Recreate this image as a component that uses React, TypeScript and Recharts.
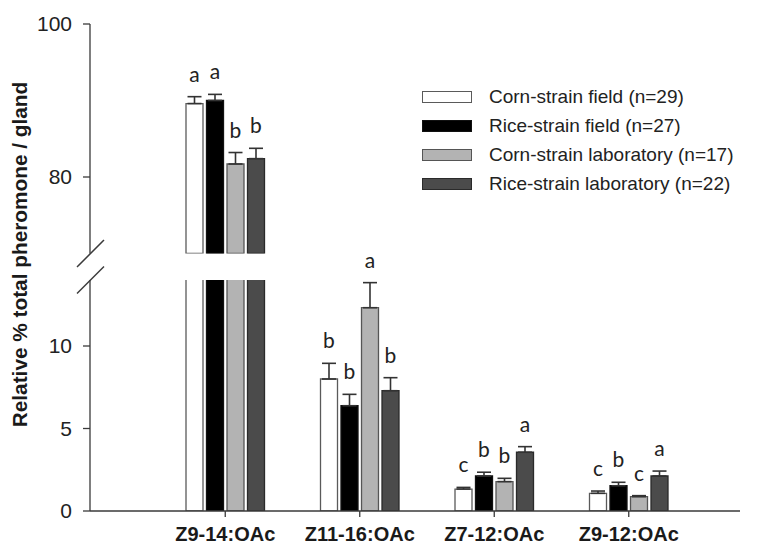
import React from 'react';
import { BarChart, Bar, XAxis, YAxis, ErrorBar, LabelList, Legend } from 'recharts';

// ---------- data ----------
const categories = ['Z9-14:OAc', 'Z11-16:OAc', 'Z7-12:OAc', 'Z9-12:OAc'];

const seriesNames = [
  'Corn-strain field (n=29)',
  'Rice-strain field (n=27)',
  'Corn-strain laboratory (n=17)',
  'Rice-strain laboratory (n=22)',
];

const cornField = [89.6, 8.0, 1.33, 1.07];
const cornFieldErr = [0.9, 0.95, 0.1, 0.14];
const cornFieldLetters = ['a', 'b', 'c', 'c'];

const riceField = [90.0, 6.38, 2.12, 1.53];
const riceFieldErr = [0.8, 0.69, 0.23, 0.21];
const riceFieldLetters = ['a', 'b', 'b', 'b'];

const cornLab = [81.7, 12.32, 1.78, 0.87];
const cornLabErr = [1.5, 1.52, 0.2, 0.06];
const cornLabLetters = ['b', 'a', 'b', 'c'];

const riceLab = [82.4, 7.29, 3.56, 2.12];
const riceLabErr = [1.35, 0.79, 0.34, 0.3];
const riceLabLetters = ['b', 'b', 'a', 'a'];

const upperDomain = [70, 100];
const upperTicks = [80, 100];
const lowerDomain = [0, 14];
const lowerTicks = [0, 5, 10];

const yLabel = 'Relative % total pheromone / gland';

// ---------- styles ----------
const fills = ['#ffffff', '#000000', '#b3b3b3', '#4b4b4b'];
const strokes = ['#5a5a5a', '#111111', '#555555', '#2a2a2a'];

const series = [
  { values: cornField, errs: cornFieldErr, letters: cornFieldLetters },
  { values: riceField, errs: riceFieldErr, letters: riceFieldLetters },
  { values: cornLab, errs: cornLabErr, letters: cornLabLetters },
  { values: riceLab, errs: riceLabErr, letters: riceLabLetters },
];

const W = 759;
const H = 546;
const AXIS_X = 90;
const PLOT_RIGHT = 740;
const UPPER_TOP = 24;
const UPPER_BOTTOM = 253.5;
const LOWER_TOP = 280;
const LOWER_BOTTOM = 511;
const XAXIS_H = 35;
const FONT = '"Liberation Sans", Arial, sans-serif';
const AXIS_COLOR = '#3a3a3a';

const inDomain = (v: number | null, dom: number[]) => v != null && v >= dom[0] && v <= dom[1];

const buildData = (dom: number[]) =>
  categories.map((cat, i) => {
    const row: any = { cat };
    series.forEach((s, k) => {
      const v = s.values[i];
      const visible = dom[0] > 0 ? v >= dom[0] : true;
      row[`v${k}`] = visible ? v : null;
      row[`e${k}`] = inDomain(v, dom) ? [0, s.errs[i]] : null;
    });
    return row;
  });

const upperData = buildData(upperDomain);
const lowerData = buildData(lowerDomain);

const letterRenderer = (k: number, dom: number[]) => (props: any) => {
  const idx = props.index;
  const s = series[k];
  const v = s.values[idx];
  if (!inDomain(v, dom)) return null;
  const vb = props.viewBox || props;
  const x = vb.x ?? props.x;
  const y = vb.y ?? props.y;
  const w = vb.width ?? props.width;
  const h = vb.height ?? props.height;
  if (x == null || y == null || !h) return null;
  const top = Math.min(y, y + h);
  const pxPerUnit = Math.abs(h) / (v - dom[0]);
  const errTop = top - s.errs[idx] * pxPerUnit;
  return (
    <text
      x={x + w / 2}
      y={errTop - 15}
      textAnchor="middle"
      fontFamily='Lato, "Open Sans", sans-serif'
      fontSize={21}
      fill="#222"
    >
      {s.letters[idx]}
    </text>
  );
};

const renderLegend = () => (
  <div style={{ fontFamily: FONT, fontSize: 19, color: '#222' }}>
    {seriesNames.map((name, k) => (
      <div key={name} style={{ display: 'flex', alignItems: 'center', height: 29 }}>
        <div
          style={{
            width: 48,
            height: 10,
            background: fills[k],
            border: `1.5px solid ${strokes[k]}`,
            marginRight: 17,
            flex: '0 0 auto',
          }}
        />
        <span style={{ whiteSpace: 'nowrap', lineHeight: '29px' }}>{name}</span>
      </div>
    ))}
  </div>
);

const renderBars = (dom: number[]) =>
  series.map((s, k) => (
    <Bar
      key={k}
      dataKey={`v${k}`}
      name={seriesNames[k]}
      fill={fills[k]}
      stroke={strokes[k]}
      strokeWidth={1.3}
      isAnimationActive={false}
    >
      <ErrorBar dataKey={`e${k}`} width={7} stroke="#333" strokeWidth={1.6} direction="y" />
      <LabelList dataKey={`v${k}`} content={letterRenderer(k, dom)} />
    </Bar>
  ));

const tickStyle = { fontSize: 21, fill: '#222', fontFamily: FONT };

export default function App() {
  return (
    <div style={{ position: 'absolute', left: 0, top: 0, width: W, height: H, background: '#fff', fontFamily: FONT }}>
      {/* lower segment */}
      <div style={{ position: 'absolute', left: 0, top: 0 }}>
        <BarChart
          width={W}
          height={H}
          data={lowerData}
          margin={{ top: LOWER_TOP, right: W - PLOT_RIGHT, bottom: H - LOWER_BOTTOM - XAXIS_H, left: 0 }}
          barSize={17}
          barGap={3.5}
        >
          <XAxis
            dataKey="cat"
            type="category"
            height={XAXIS_H}
            padding={{ left: 68, right: 44 }}
            tickSize={6}
            tickMargin={10}
            stroke={AXIS_COLOR}
            strokeWidth={1.3}
            tick={{ fontSize: 20, fontWeight: 'bold', fill: '#1a1a1a', fontFamily: FONT }}
          />
          <YAxis
            type="number"
            domain={lowerDomain}
            ticks={lowerTicks}
            allowDataOverflow
            width={AXIS_X}
            tickSize={7}
            tickMargin={11}
            stroke={AXIS_COLOR}
            strokeWidth={1.3}
            tick={tickStyle}
          />
          {renderBars(lowerDomain)}
        </BarChart>
      </div>

      {/* upper segment */}
      <div style={{ position: 'absolute', left: 0, top: 0 }}>
        <BarChart
          width={W}
          height={H}
          data={upperData}
          margin={{ top: UPPER_TOP, right: W - PLOT_RIGHT, bottom: H - UPPER_BOTTOM, left: 0 }}
          barSize={17}
          barGap={3.5}
        >
          <XAxis dataKey="cat" type="category" hide padding={{ left: 68, right: 44 }} />
          <YAxis
            type="number"
            domain={upperDomain}
            ticks={upperTicks}
            allowDataOverflow
            width={AXIS_X}
            tickSize={7}
            tickMargin={11}
            stroke={AXIS_COLOR}
            strokeWidth={1.3}
            tick={tickStyle}
          />
          {renderBars(upperDomain)}
          <Legend
            layout="horizontal"
            align="center"
            verticalAlign="middle"
            content={renderLegend}
            wrapperStyle={{ position: 'absolute', left: 422, top: 82, width: 330 }}
          />
        </BarChart>
      </div>

      {/* axis break marks and y-axis title */}
      <svg
        width={W}
        height={H}
        style={{ position: 'absolute', left: 0, top: 0, pointerEvents: 'none' }}
      >
        {[UPPER_BOTTOM, LOWER_TOP].map((cy) => (
          <line
            key={cy}
            x1={AXIS_X + 0.5 - 13.5}
            y1={cy + 13.5}
            x2={AXIS_X + 0.5 + 13.5}
            y2={cy - 13.5}
            stroke={AXIS_COLOR}
            strokeWidth={1.5}
          />
        ))}
        <text
          x={27}
          y={(UPPER_TOP + LOWER_BOTTOM) / 2 - 13}
          transform={`rotate(-90 27 ${(UPPER_TOP + LOWER_BOTTOM) / 2 - 13})`}
          textAnchor="middle"
          fontFamily={FONT}
          fontWeight="bold"
          fontSize={20.8}
          fill="#1a1a1a"
        >
          {yLabel}
        </text>
      </svg>
    </div>
  );
}
